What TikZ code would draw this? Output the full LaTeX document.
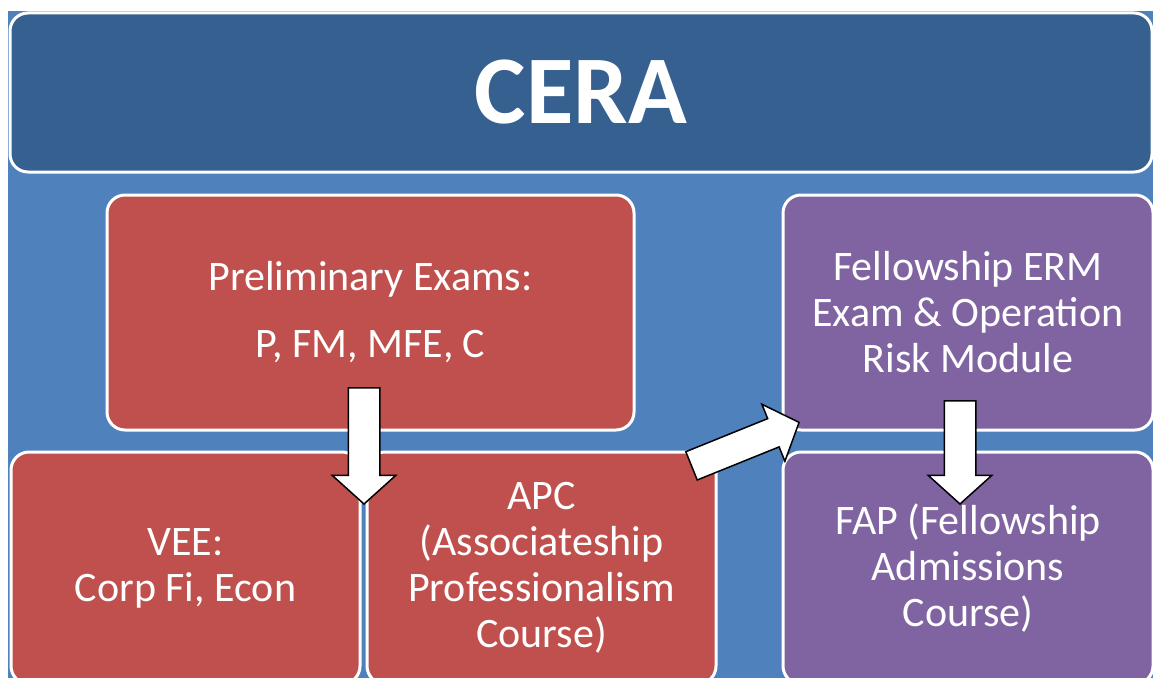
\documentclass[tikz,border=0pt]{standalone}
\usepackage{fontspec}
\setmainfont{Carlito}
\usetikzlibrary{shapes.arrows}
\definecolor{titleblue}{RGB}{54,96,143}
\definecolor{backblue}{RGB}{79,129,189}
\definecolor{examred}{RGB}{192,80,77}
\definecolor{fellowpurple}{RGB}{128,100,162}

\begin{document}
\begin{tikzpicture}
  [x=1pt,y=-1pt,
   box/.style={rectangle, rounded corners=18pt, draw=white, line width=3pt,
     text=white, align=center, font=\fontsize{42}{46}\selectfont},
   assoc/.style={fill=examred},
   fellow/.style={fill=fellowpurple},
   arrow/.style={
    single arrow, draw=black, fill=white,
    line width=1.5pt, inner xsep=0pt, inner ysep=15pt,
    single arrow head extend=16pt,
    single arrow tip angle=96, minimum height=116pt,
    anchor=tip,
  },
  ]

  \useasboundingbox (0,0) rectangle (1153,677);
  \clip (0,0) rectangle (1153,677);
  \fill[backblue] (8,11) rectangle (1170,700);

  \node[box, fill=titleblue, minimum width=1142pt, minimum height=159pt,
        font=\fontsize{97}{116}\selectfont\bfseries] (cera) at (581,92.5) {CERA};

  \node[box, assoc, minimum width=527pt, minimum height=235pt] (prelim) at (370.5,312.5)
       {Preliminary Exams:\\[21pt]P, FM, MFE, C};
  \node[box, fellow, minimum width=370pt, minimum height=235pt] (erm) at (968,312.5)
       {Fellowship ERM\\Exam \& Operation\\Risk Module};

  \node[box, assoc, minimum width=349pt, minimum height=232pt] (vee) at (185.5,568)
       {VEE:\\Corp Fi, Econ};
  \node[box, assoc, minimum width=349pt, minimum height=232pt] (apc) at (541.5,568)
       {APC\\(Associateship\\Professionalism\\Course)};
  \node[box, fellow, minimum width=370pt, minimum height=232pt] (fap) at (968,568)
       {FAP (Fellowship\\Admissions\\Course)};

  % block arrows, placed by their tips
  \node[arrow, rotate=-90] (down1) at (364,505) {};
  \node[arrow, rotate=-90, minimum height=103pt] (down2) at (960,505) {};
  \node[arrow, rotate=22, inner ysep=14.5pt, single arrow head extend=15.5pt] (up) at (800,422) {};

\end{tikzpicture}
\end{document}
